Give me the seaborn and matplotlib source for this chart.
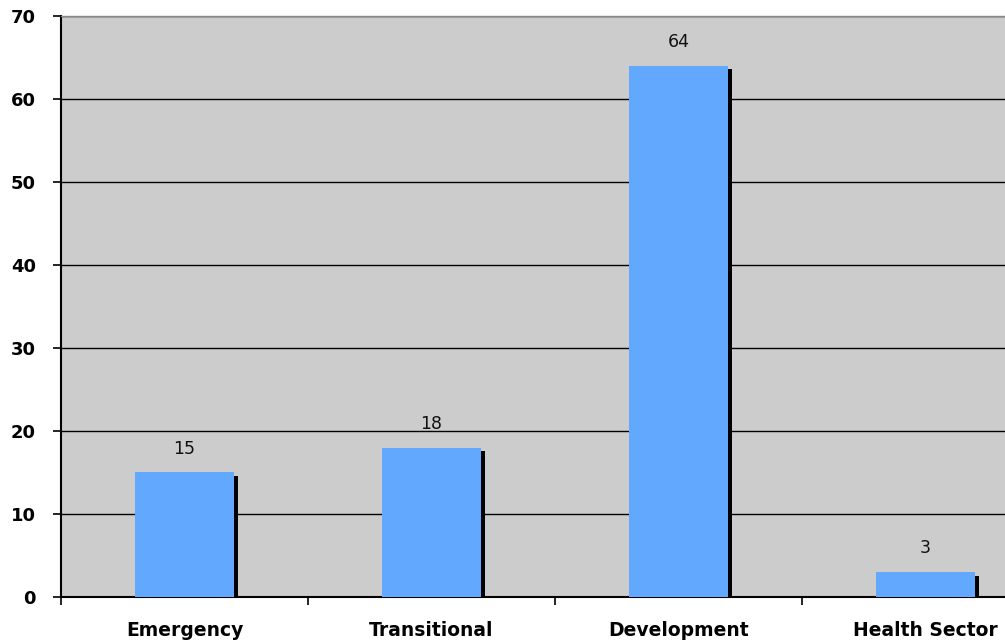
import matplotlib
matplotlib.use("Agg")
import matplotlib.pyplot as plt
import matplotlib.patheffects as pe
import seaborn as sns
import pandas as pd

categories = ["Emergency", "Transitional", "Development", "Health Sector"]
values = [15, 18, 64, 3]
y_ticks = [0, 10, 20, 30, 40, 50, 60, 70]

sns.set_theme(style="white")
plt.rcParams["font.family"] = ["DejaVu Sans"]

df = pd.DataFrame({"category": categories, "value": values})

fig = plt.figure(figsize=(10.05, 6.42), dpi=100)
ax = fig.add_axes([0.0607, 0.0701, 0.983, 0.905])
ax.set_facecolor("#CCCCCC")

sns.barplot(data=df, x="category", y="value", color="#62A8FF", saturation=1,
            width=0.4, ax=ax, zorder=3)

for patch in ax.patches:
    patch.set_edgecolor("none")
    patch.set_path_effects([
        pe.SimplePatchShadow(offset=(3, -2.5), shadow_rgbFace="black", alpha=1.0),
        pe.Normal(),
    ])

for i, v in enumerate(values):
    ax.text(i, v + 1.8, str(v), ha="center", va="bottom", fontsize=12.5,
            color="#111111", zorder=4)

ax.set_xlim(-0.5, 3.5)
ax.set_ylim(0, 70)
ax.set_yticks(y_ticks)
ax.set_yticklabels([str(t) for t in y_ticks], fontsize=13, fontweight="bold",
                   color="black")
ax.yaxis.grid(True, color="black", linewidth=1.0, zorder=1)
ax.set_axisbelow(True)

ax.set_xticks(range(len(categories)))
ax.set_xticklabels(categories, fontsize=13.5, fontweight="bold", color="black")
ax.set_xticks([-0.5, 0.5, 1.5, 2.5], minor=True)
ax.tick_params(axis="x", which="major", length=0, pad=17)
ax.tick_params(axis="x", which="minor", length=6, width=1.2, direction="out",
               color="black", bottom=True)
ax.tick_params(axis="y", which="major", length=6, width=1.2, direction="out",
               color="black", left=True, pad=12)

ax.set_xlabel("")
ax.set_ylabel("")

for side in ["left", "bottom"]:
    ax.spines[side].set_color("black")
    ax.spines[side].set_linewidth(1.5)
ax.spines["top"].set_color("#888888")
ax.spines["top"].set_linewidth(1.0)
ax.spines["right"].set_visible(False)

fig.savefig("out.png", dpi=100, facecolor="white")
